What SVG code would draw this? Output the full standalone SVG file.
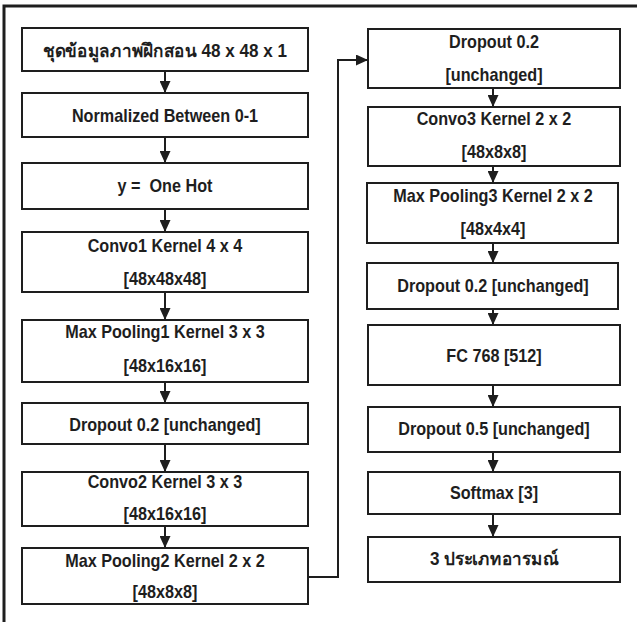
<svg xmlns="http://www.w3.org/2000/svg" width="638" height="622" viewBox="0 0 638 622">
<defs>
<style>
.box{fill:#fff;stroke:#1e1e1e;stroke-width:2}
.t{font-family:"Liberation Sans","Noto Sans","DejaVu Sans",sans-serif;font-weight:bold;font-size:18px;fill:#1e1e1e;text-anchor:middle}
.c{fill:none;stroke:#1e1e1e;stroke-width:2}
</style>
<marker id="ah" viewBox="0 0 12 11" refX="12" refY="5.5" markerWidth="12" markerHeight="11" markerUnits="userSpaceOnUse" orient="auto">
<path d="M0,0 L12,5.5 L0,11 Z" fill="#1e1e1e"/>
</marker>
</defs>
<rect x="0" y="0" width="638" height="622" fill="#fff"/>
<polyline points="4,622 4,6 637,6" fill="none" stroke="#1e1e1e" stroke-width="3"/>
<g id="connectors">
<line class="c" x1="165" y1="71" x2="165" y2="93" marker-end="url(#ah)"/>
<line class="c" x1="165" y1="137" x2="165" y2="163" marker-end="url(#ah)"/>
<line class="c" x1="165" y1="209" x2="165" y2="232" marker-end="url(#ah)"/>
<line class="c" x1="165" y1="292" x2="165" y2="320" marker-end="url(#ah)"/>
<line class="c" x1="165" y1="382" x2="165" y2="403" marker-end="url(#ah)"/>
<line class="c" x1="165" y1="444" x2="165" y2="472" marker-end="url(#ah)"/>
<line class="c" x1="165" y1="526" x2="165" y2="548" marker-end="url(#ah)"/>
<polyline class="c" points="308,577 338,577 338,60 368,60" marker-end="url(#ah)"/>
<line class="c" x1="493" y1="88" x2="493" y2="107" marker-end="url(#ah)"/>
<line class="c" x1="493" y1="166" x2="493" y2="183" marker-end="url(#ah)"/>
<line class="c" x1="493" y1="243" x2="493" y2="263" marker-end="url(#ah)"/>
<line class="c" x1="493" y1="309" x2="493" y2="325" marker-end="url(#ah)"/>
<line class="c" x1="493" y1="385" x2="493" y2="407" marker-end="url(#ah)"/>
<line class="c" x1="493" y1="452" x2="493" y2="472" marker-end="url(#ah)"/>
<line class="c" x1="493" y1="514" x2="493" y2="537" marker-end="url(#ah)"/>
</g>
<g id="n1"><rect class="box" x="22" y="28" width="286" height="43"/><text class="t" transform="translate(165,57) scale(0.95,1)">ชุดข้อมูลภาพฝึกสอน 48 x 48 x 1</text></g>
<g id="n2"><rect class="box" x="22" y="93" width="286" height="44"/><text class="t" transform="translate(165,122) scale(0.9,1)">Normalized Between 0-1</text></g>
<g id="n3"><rect class="box" x="22" y="163" width="286" height="46"/><text class="t" transform="translate(165,192) scale(0.9,1)">y =&#160; One Hot</text></g>
<g id="n4"><rect class="box" x="22" y="232" width="286" height="60"/><text class="t" transform="translate(165,252) scale(0.9,1)">Convo1 Kernel 4 x 4</text><text class="t" transform="translate(165,285) scale(0.9,1)">[48x48x48]</text></g>
<g id="n5"><rect class="box" x="22" y="320" width="286" height="62"/><text class="t" transform="translate(165,338) scale(0.9,1)">Max Pooling1 Kernel 3 x 3</text><text class="t" transform="translate(165,372) scale(0.9,1)">[48x16x16]</text></g>
<g id="n6"><rect class="box" x="22" y="403" width="286" height="41"/><text class="t" transform="translate(165,431) scale(0.9,1)">Dropout 0.2 [unchanged]</text></g>
<g id="n7"><rect class="box" x="22" y="472" width="286" height="54"/><text class="t" transform="translate(165,488) scale(0.9,1)">Convo2 Kernel 3 x 3</text><text class="t" transform="translate(165,520) scale(0.9,1)">[48x16x16]</text></g>
<g id="n8"><rect class="box" x="22" y="548" width="286" height="56"/><text class="t" transform="translate(165,567) scale(0.9,1)">Max Pooling2 Kernel 2 x 2</text><text class="t" transform="translate(165,598) scale(0.9,1)">[48x8x8]</text></g>
<g id="r1"><rect class="box" x="368" y="29" width="252" height="59"/><text class="t" transform="translate(494,48) scale(0.9,1)">Dropout 0.2</text><text class="t" transform="translate(494,81) scale(0.9,1)">[unchanged]</text></g>
<g id="r2"><rect class="box" x="368" y="107" width="252" height="59"/><text class="t" transform="translate(494,125) scale(0.9,1)">Convo3 Kernel 2 x 2</text><text class="t" transform="translate(494,158) scale(0.9,1)">[48x8x8]</text></g>
<g id="r3"><rect class="box" x="367" y="183" width="251" height="60"/><text class="t" transform="translate(493,202) scale(0.9,1)">Max Pooling3 Kernel 2 x 2</text><text class="t" transform="translate(493,235) scale(0.9,1)">[48x4x4]</text></g>
<g id="r4"><rect class="box" x="367" y="263" width="251" height="46"/><text class="t" transform="translate(493,292) scale(0.9,1)">Dropout 0.2 [unchanged]</text></g>
<g id="r5"><rect class="box" x="368" y="325" width="252" height="60"/><text class="t" transform="translate(494,362) scale(0.9,1)">FC 768 [512]</text></g>
<g id="r6"><rect class="box" x="368" y="407" width="252" height="45"/><text class="t" transform="translate(494,435) scale(0.9,1)">Dropout 0.5 [unchanged]</text></g>
<g id="r7"><rect class="box" x="368" y="472" width="252" height="42"/><text class="t" transform="translate(494,499) scale(0.9,1)">Softmax [3]</text></g>
<g id="r8"><rect class="box" x="368" y="537" width="252" height="45"/><text class="t" transform="translate(494,565) scale(0.95,1)">3 ประเภทอารมณ์</text></g>
</svg>
